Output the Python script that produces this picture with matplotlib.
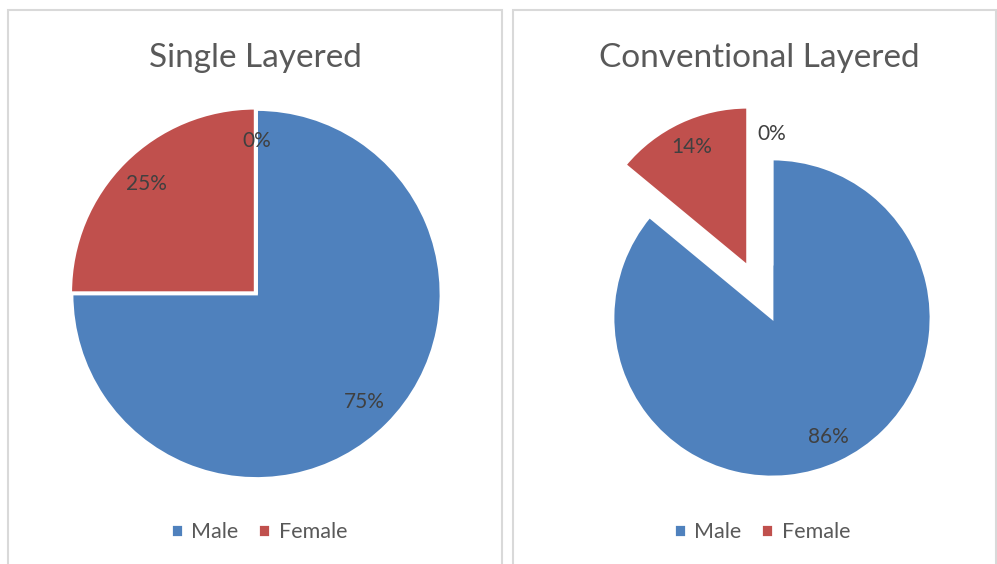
import matplotlib.pyplot as plt
from matplotlib.patches import Rectangle

plt.rcParams['font.family'] = ['Lato', 'DejaVu Sans']

W, H = 997, 564

categories = ["Male", "Female", ""]
single_values = [75, 25, 0]
conventional_values = [86, 14, 0]
titles = ["Single Layered", "Conventional Layered"]

colors = ["#4F81BD", "#C0504D", "#9BBB59"]

fig = plt.figure(figsize=(W / 100, H / 100), dpi=100)

# panel frames (pixels: x0, x1)
for x0, x1 in [(8, 502), (513, 996)]:
    fig.patches.append(Rectangle((x0 / W, -0.1), (x1 - x0) / W, 1.1 - 10 / H,
                                 transform=fig.transFigure, fill=False,
                                 edgecolor="#D9D9D9", linewidth=1.5))


def pie_axes(cx, cy, r, lim=1.5):
    # cx, cy, r in pixels from top-left
    size = 2 * lim * r
    ax = fig.add_axes([(cx - lim * r) / W, (H - cy - lim * r) / H, size / W, size / H])
    ax.set_xlim(-lim, lim)
    ax.set_ylim(-lim, lim)
    ax.axis("off")
    return ax


def draw_pie(ax, values, explode):
    wedges, _, autotexts = ax.pie(
        values, colors=colors, startangle=90, counterclock=False,
        explode=explode, autopct="%1.0f%%", pctdistance=0.83,
        wedgeprops=dict(edgecolor="white", linewidth=2),
        textprops=dict(color="#404040", fontsize=15))
    ax.set_xlim(-1.5, 1.5)
    ax.set_ylim(-1.5, 1.5)
    return wedges


ax1 = pie_axes(256.5, 294, 184.5)
w1 = draw_pie(ax1, single_values, [0, 0.01, 0])

ax2 = pie_axes(772, 318, 159)
w2 = draw_pie(ax2, conventional_values, [0, 0.36, 0.33])

for title, xc in zip(titles, [255, 759]):
    fig.text(xc / W, 1 - 58 / H, title, ha="center", va="center",
             fontsize=24, color="#595959")

for wedges, xc in zip([w1, w2], [259, 762]):
    fig.legend(wedges[:2], categories[:2], loc="center",
               bbox_to_anchor=(xc / W, 1 - 532 / H), ncol=2, frameon=False,
               fontsize=15.5, labelcolor="#595959", handlelength=0.55,
               handleheight=0.55, handletextpad=0.4, columnspacing=0.9)

fig.savefig("out.png", dpi=100)
